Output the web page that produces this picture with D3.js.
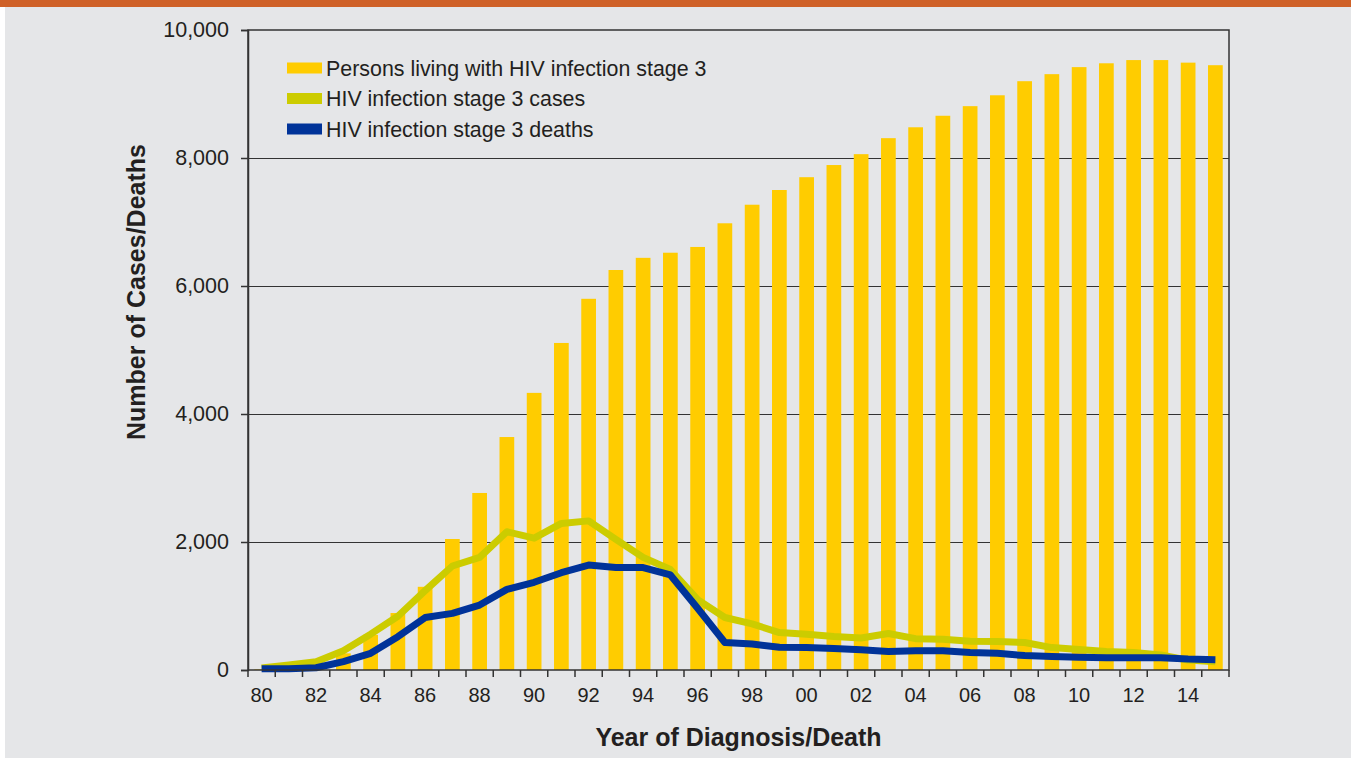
<!DOCTYPE html>
<html>
<head>
<meta charset="utf-8">
<script src="https://cdn.jsdelivr.net/npm/d3@7"></script>
<style>
  html, body { margin: 0; padding: 0; background: #ffffff; }
  svg { display: block; font-family: "Liberation Sans", Arial, sans-serif; }
</style>
</head>
<body>
<script>
// data
const years = d3.range(1980, 2016);
const living = [10, 40, 100, 260, 550, 890, 1300, 2047, 2766, 3640, 4330, 5110, 5800, 6250, 6440, 6520,
  6610, 6980, 7270, 7500, 7700, 7890, 8060, 8310, 8480, 8660, 8810, 8980, 9200, 9310, 9420, 9480,
  9530, 9530, 9490, 9450];
const cases = [30, 80, 130, 300, 560, 840, 1240, 1625, 1760, 2160, 2060, 2290, 2330, 2040, 1760, 1570,
  1100, 820, 720, 585, 560, 525, 500, 570, 490, 480, 450, 445, 430, 350, 320, 290,
  275, 235, 155, 130];
const deaths = [20, 20, 35, 130, 260, 520, 820, 885, 1015, 1260, 1370, 1520, 1640, 1600, 1600, 1485,
  965, 430, 405, 355, 350, 335, 315, 290, 300, 300, 275, 260, 225, 210, 200, 190,
  190, 190, 170, 160];
const yTicks = [0, 2000, 4000, 6000, 8000, 10000];
const legendItems = [
  {label: 'Persons living with HIV infection stage 3', color: '#ffcc00'},
  {label: 'HIV infection stage 3 cases', color: '#cccc00'},
  {label: 'HIV infection stage 3 deaths', color: '#003399'}
];

const width = 1351, height = 758;
const margin = {top: 30, right: 122, bottom: 88, left: 248};

const svg = d3.select('body').append('svg')
  .attr('width', width)
  .attr('height', height);

// background, top strip and left white edge
svg.append('rect').attr('x', 5).attr('y', 0).attr('width', width - 5).attr('height', height).attr('fill', '#e5e6e8');
svg.append('rect').attr('x', 0).attr('y', 0).attr('width', width).attr('height', 7).attr('fill', '#cf6128');

const x = d3.scaleBand()
  .domain(years)
  .range([margin.left, width - margin.right])
  .paddingInner(0)
  .paddingOuter(0);

const y = d3.scaleLinear()
  .domain([0, 10000])
  .range([height - margin.bottom, margin.top]);

const bw = x.bandwidth() * 0.54;

// grid lines
svg.append('g')
  .selectAll('line')
  .data(yTicks.filter(d => d > 0 && d < 10000))
  .enter()
  .append('line')
  .attr('x1', margin.left)
  .attr('x2', width - margin.right)
  .attr('y1', d => Math.round(y(d)) + 0.5)
  .attr('y2', d => Math.round(y(d)) + 0.5)
  .attr('stroke', '#333')
  .attr('stroke-width', 1);

// bars
svg.append('g')
  .selectAll('rect')
  .data(years)
  .enter()
  .append('rect')
  .attr('x', d => x(d) + (x.bandwidth() - bw) / 2)
  .attr('y', (d, i) => y(living[i]))
  .attr('width', bw)
  .attr('height', (d, i) => y(0) - y(living[i]))
  .attr('fill', '#ffcc00');

// lines
const line = d3.line()
  .x((d, i) => x(years[i]) + x.bandwidth() / 2)
  .y(d => y(d));

svg.append('path')
  .datum(cases)
  .attr('d', line)
  .attr('fill', 'none')
  .attr('stroke', '#cccc00')
  .attr('stroke-width', 7)
  .attr('stroke-linejoin', 'round');

svg.append('path')
  .datum(deaths)
  .attr('d', line)
  .attr('fill', 'none')
  .attr('stroke', '#003399')
  .attr('stroke-width', 7)
  .attr('stroke-linejoin', 'round');

// frame
svg.append('rect')
  .attr('x', margin.left)
  .attr('y', margin.top)
  .attr('width', width - margin.right - margin.left)
  .attr('height', height - margin.bottom - margin.top)
  .attr('fill', 'none')
  .attr('stroke', '#333')
  .attr('stroke-width', 1.5);

// y axis
const yAxis = svg.append('g')
  .attr('transform', `translate(${margin.left},0)`)
  .call(d3.axisLeft(y).tickValues(yTicks).tickFormat(d3.format(',')).tickSize(7).tickPadding(12));
yAxis.select('.domain').attr('stroke', '#333').attr('stroke-width', 1.5);
yAxis.selectAll('.tick line').attr('stroke', '#333').attr('stroke-width', 1.5);
yAxis.selectAll('.tick text').attr('font-size', 21.5).attr('fill', '#231f20')
  .attr('font-family', '"Liberation Sans", Arial, sans-serif');

// x axis: ticks on band edges, labels every other year
const xAxisG = svg.append('g').attr('transform', `translate(0,${height - margin.bottom})`);
xAxisG.selectAll('line')
  .data(years.concat([2016]))
  .enter()
  .append('line')
  .attr('x1', d => d === 2016 ? width - margin.right : x(d))
  .attr('x2', d => d === 2016 ? width - margin.right : x(d))
  .attr('y1', 0)
  .attr('y2', 7)
  .attr('stroke', '#333')
  .attr('stroke-width', 1.5);
xAxisG.selectAll('text')
  .data(years.filter(d => d % 2 === 0))
  .enter()
  .append('text')
  .attr('x', d => x(d) + x.bandwidth() / 2)
  .attr('y', 32)
  .attr('text-anchor', 'middle')
  .attr('font-size', 20)
  .attr('fill', '#231f20')
  .text(d => String(d % 100).padStart(2, '0'));

// axis titles
svg.append('text')
  .attr('x', (margin.left + width - margin.right) / 2)
  .attr('y', 746)
  .attr('text-anchor', 'middle')
  .attr('font-size', 25)
  .attr('font-weight', 'bold')
  .attr('fill', '#231f20')
  .text('Year of Diagnosis/Death');

svg.append('text')
  .attr('transform', 'translate(145,292) rotate(-90)')
  .attr('text-anchor', 'middle')
  .attr('font-size', 25)
  .attr('font-weight', 'bold')
  .attr('fill', '#231f20')
  .text('Number of Cases/Deaths');

// legend
const legend = svg.append('g')
  .selectAll('g')
  .data(legendItems)
  .enter()
  .append('g')
  .attr('transform', (d, i) => `translate(287,${68 + i * 30.5})`);
legend.append('rect')
  .attr('x', 0)
  .attr('y', -5.5)
  .attr('width', 35)
  .attr('height', 11)
  .attr('fill', d => d.color);
legend.append('text')
  .attr('x', 39)
  .attr('y', 0)
  .attr('dy', '0.35em')
  .attr('font-size', 21.4)
  .attr('fill', '#231f20')
  .text(d => d.label);
</script>
</body>
</html>
